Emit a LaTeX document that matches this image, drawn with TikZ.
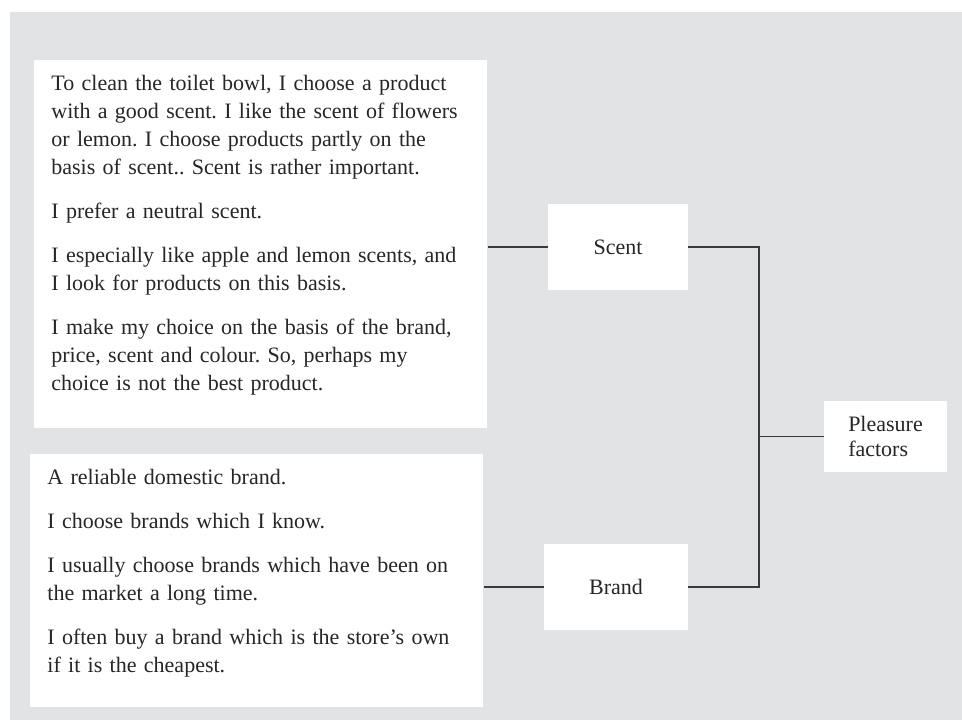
\documentclass[tikz,border=0pt]{standalone}
\usepackage{fontspec}
\setmainfont{Liberation Serif}
\usepackage{tikz}
\definecolor{panel}{RGB}{226,227,229}
\definecolor{ink}{RGB}{58,58,58}
\tikzset{
every node/.style={font=\frenchspacing\fontsize{11pt}{14pt}\selectfont, text=black!85},
quote/.style={fill=white, anchor=north west, inner xsep=8.5pt, inner ysep=0pt,
  text width=209.5pt, align=left, text height=15pt},
factor/.style={fill=white, minimum width=#1, minimum height=43pt, inner sep=0pt},
link/.style={draw=ink, line width=0.75pt}
}

\begin{document}
\begin{tikzpicture}[x=0.5pt,y=-0.5pt]
\useasboundingbox (0,0) rectangle (962,720);
\fill[white] (0,0) rectangle (962,720);
\fill[panel] (10,12) rectangle (962,720);

\node[quote,text depth=169pt] (scentq) at (34,60) {To clean the toilet bowl, I choose a product\\
with a good scent. I like the scent of flowers\\
or lemon. I choose products partly on the\\
basis of scent.. Scent is rather important.\\[8pt]
I prefer a neutral scent.\\[8pt]
I especially like apple and lemon scents, and\\
I look for products on this basis.\\[8pt]
I make my choice on the basis of the brand,\\
price, scent and colour. So, perhaps my\\
choice is not the best product.};
\node[quote,text depth=111.5pt] (brandq) at (30,454) {A reliable domestic brand.\\[8pt]
I choose brands which I know.\\[8pt]
I usually choose brands which have been on\\
the market a long time.\\[8pt]
I often buy a brand which is the store's own\\
if it is the cheapest.};

\node[factor=70pt] (scent) at (618,247) {Scent};
\node[factor=72pt] (brand) at (616,587) {Brand};
\node[factor=61.5pt,minimum height=35.5pt,align=left,
  font=\fontsize{11pt}{12.5pt}\selectfont] (pleasure) at (885.5,436.5) {Pleasure\\factors};
\coordinate (hub) at (759,436.5);

\draw[link] (scentq.east |- scent.west) -- (scent.west);
\draw[link] (brandq.east |- brand.west) -- (brand.west);
\draw[link] (scent.east) -| (hub |- brand.east) -- (brand.east);
\draw[link] (hub) -- (pleasure.west);
\end{tikzpicture}
\end{document}
